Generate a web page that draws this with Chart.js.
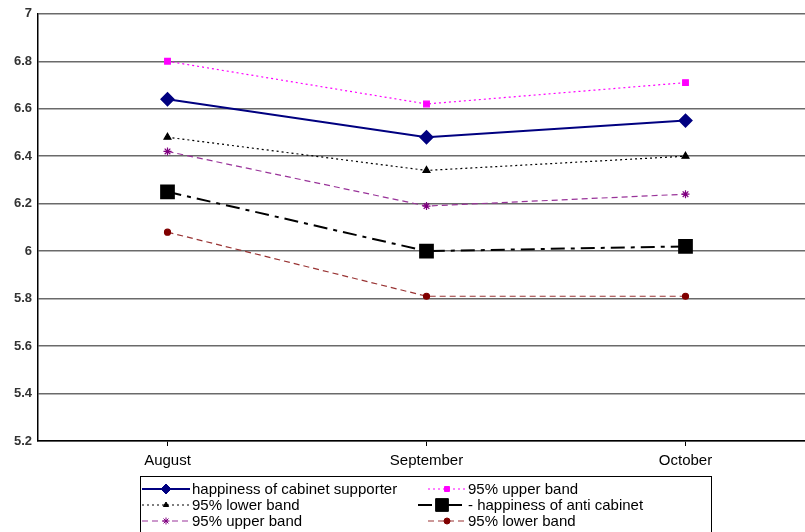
<!DOCTYPE html>
<html>
<head>
<meta charset="utf-8">
<script src="https://cdn.jsdelivr.net/npm/chart.js@4/dist/chart.umd.min.js"></script>
<style>
  html, body { margin:0; padding:0; background:#fff; overflow:hidden; }
  #wrap { width:826px; height:532px; }
</style>
</head>
<body>
<div id="wrap"><canvas id="chart" width="826" height="532"></canvas></div>
<script>
// Data
const months = ['August', 'September', 'October'];
const cabinetSupporter = [6.64, 6.48, 6.55];
const supporterUpper = [6.80, 6.62, 6.71];
const supporterLower = [6.48, 6.34, 6.40];
const antiCabinet = [6.25, 6.00, 6.02];
const antiUpper = [6.42, 6.19, 6.24];
const antiLower = [6.08, 5.81, 5.81];
const yTicks = [5.2, 5.4, 5.6, 5.8, 6, 6.2, 6.4, 6.6, 6.8, 7];

const FONT = 'Arial, "Liberation Sans", sans-serif';

// legend drawn inside the canvas, two columns three rows
const legendBox = {
    id: 'legendBox',
    afterDraw(chart) {
        const ctx = chart.ctx;
        ctx.save();
        ctx.strokeStyle = '#000';
        ctx.lineWidth = 1;
        ctx.strokeRect(140.5, 476.5, 571, 60);
        const slots = [
            {x:142, y:489, w:48, tx:192},
            {x:428, y:489, w:38, tx:468},
            {x:142, y:505, w:48, tx:192},
            {x:418, y:505, w:48, tx:468},
            {x:142, y:521, w:48, tx:192},
            {x:428, y:521, w:38, tx:468}
        ];
        chart.data.datasets.forEach((ds, i) => {
            const s = slots[i];
            ctx.save();
            ctx.strokeStyle = ds.borderColor;
            ctx.lineWidth = ds.borderWidth;
            ctx.setLineDash(ds.borderDash || []);
            ctx.beginPath();
            ctx.moveTo(s.x, s.y); ctx.lineTo(s.x + s.w, s.y);
            ctx.stroke();
            ctx.restore();
            ctx.save();
            ctx.fillStyle = ds.pointBackgroundColor;
            ctx.strokeStyle = ds.pointBorderColor;
            ctx.lineWidth = 1;
            Chart.helpers.drawPoint(ctx, {pointStyle: ds.pointStyle, radius: ds.legendRadius || ds.pointRadius, rotation: 0, borderWidth: 1}, s.x + s.w / 2, s.y);
            ctx.restore();
            ctx.fillStyle = '#000';
            ctx.font = '15px ' + FONT;
            ctx.textBaseline = 'middle';
            ctx.fillText((i === 3 ? '- ' : '') + ds.label, s.tx, s.y + 1);
        });
        ctx.restore();
    }
};

new Chart(document.getElementById('chart'), {
    type: 'line',
    data: {
        labels: months,
        datasets: [
            { label:'happiness of cabinet supporter', data:cabinetSupporter,
              borderColor:'#000080', borderWidth:2, pointStyle:'rectRot', pointRadius:6,
              pointBackgroundColor:'#000080', pointBorderColor:'#000080', legendRadius:5 },
            { label:'95% upper band', data:supporterUpper,
              borderColor:'#ff00ff', borderWidth:1.2, borderDash:[2,3], pointStyle:'rect', pointRadius:4,
              pointBackgroundColor:'#ff00ff', pointBorderColor:'#ff00ff', legendRadius:3.5 },
            { label:'95% lower band', data:supporterLower,
              borderColor:'#000', borderWidth:1.2, borderDash:[2,3], pointStyle:'triangle', pointRadius:4,
              pointBackgroundColor:'#000', pointBorderColor:'#000', legendRadius:3 },
            { label:'happiness of anti cabinet', data:antiCabinet,
              borderColor:'#000', borderWidth:2, borderDash:[14,6,4,6], pointStyle:'rect', pointRadius:9,
              pointBackgroundColor:'#000', pointBorderColor:'#000', legendRadius:9 },
            { label:'95% upper band', data:antiUpper,
              borderColor:'#993399', borderWidth:1.2, borderDash:[6,4], pointStyle:'star', pointRadius:4,
              pointBackgroundColor:'#800080', pointBorderColor:'#800080', legendRadius:3.5 },
            { label:'95% lower band', data:antiLower,
              borderColor:'#993333', borderWidth:1.2, borderDash:[6,4], pointStyle:'circle', pointRadius:3,
              pointBackgroundColor:'#800000', pointBorderColor:'#800000', legendRadius:3 }
        ]
    },
    options: {
        responsive:false, animation:false, devicePixelRatio:1,
        layout:{ padding:{ top:10, right:0, bottom:0, left:0 } },
        plugins:{ legend:{display:false}, tooltip:{enabled:false} },
        elements:{ line:{ tension:0 } },
        scales:{
            x:{
                offset:true,
                grid:{ drawOnChartArea:false, drawTicks:true, tickLength:5, color:'#000' },
                border:{ color:'#000', width:1.5 },
                ticks:{ font:{family:FONT, size:15}, color:'#000', padding:6 },
                afterFit(scale) { scale.height = 91; }
            },
            y:{
                min:5.2, max:7,
                afterBuildTicks(scale) { scale.ticks = yTicks.map(v => ({value:v})); },
                grid:{ color:'#6a6a6a', lineWidth:1.5, drawTicks:false },
                border:{ color:'#000', width:1.5 },
                ticks:{ font:{family:FONT, size:13, weight:'bold'}, color:'#333', padding:6,
                        callback:v => String(Number(v.toFixed(1))) },
                afterFit(scale) { scale.width = 38; }
            }
        }
    },
    plugins:[legendBox]
});
</script>
</body>
</html>
